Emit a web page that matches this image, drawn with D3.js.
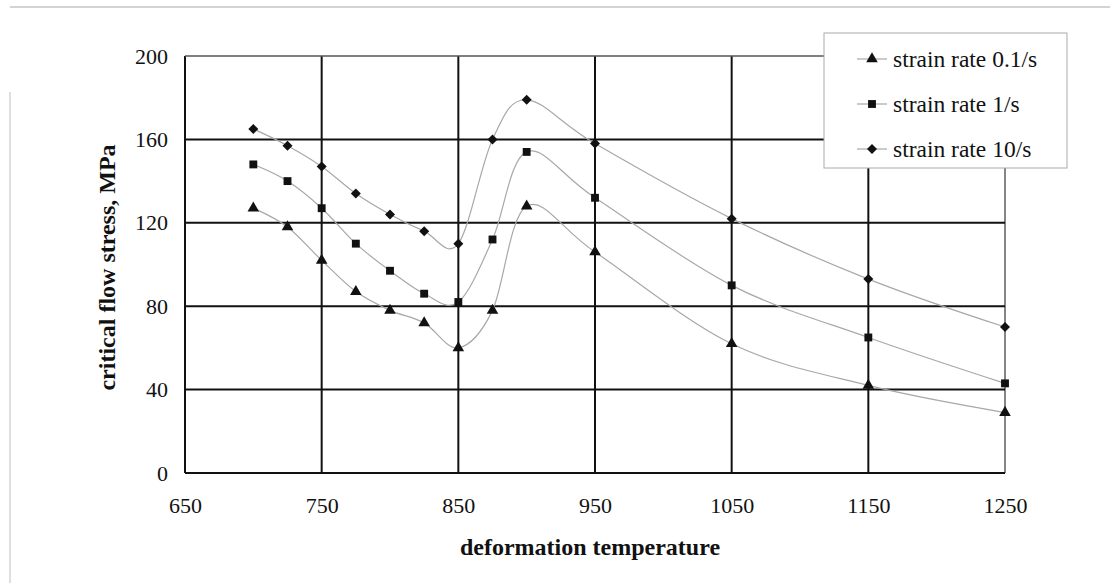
<!DOCTYPE html>
<html>
<head>
<meta charset="utf-8">
<script src="https://cdn.jsdelivr.net/npm/d3@7"></script>
<style>
  body { margin: 0; background: #fff; }
  svg { display: block; font-family: "Liberation Serif", "Times New Roman", serif; }
</style>
</head>
<body>
<div id="content"></div>
<script>
// values
let temps = [700, 725, 750, 775, 800, 825, 850, 875, 900, 950, 1050, 1150, 1250];
let rate01 = [127, 118, 102, 87, 78, 72, 60, 78, 128, 106, 62, 42, 29];
let rate1 = [148, 140, 127, 110, 97, 86, 82, 112, 154, 132, 90, 65, 43];
let rate10 = [165, 157, 147, 134, 124, 116, 110, 160, 179, 158, 122, 93, 70];

let xTicks = [650, 750, 850, 950, 1050, 1150, 1250];
let yTicks = [0, 40, 80, 120, 160, 200];
let seriesNames = ['strain rate 0.1/s', 'strain rate 1/s', 'strain rate 10/s'];

let W = 1110, H = 583;
let plotL = 185, plotR = 1005, plotT = 56, plotB = 473;

let x = d3.scaleLinear().domain([650, 1250]).range([plotL, plotR]);
let y = d3.scaleLinear().domain([0, 200]).range([plotB, plotT]);

let svg = d3.select('#content').append('svg')
    .attr('width', W).attr('height', H);

// scanned page edges
svg.append('line').attr('x1', 10).attr('x2', W).attr('y1', 7).attr('y2', 7)
    .attr('stroke', '#c4c4c4').attr('stroke-width', 1.5);
svg.append('line').attr('x1', 10).attr('x2', 10).attr('y1', 92).attr('y2', H)
    .attr('stroke', '#d4d4d4').attr('stroke-width', 1.5);

// grid
let grid = svg.append('g');
grid.selectAll('.vg').data(xTicks).enter().append('line')
    .attr('x1', d => x(d)).attr('x2', d => x(d))
    .attr('y1', plotT).attr('y2', plotB)
    .attr('stroke', d => d === 1250 ? '#444' : '#111')
    .attr('stroke-width', d => d === 1250 ? 1.3 : 2);
grid.selectAll('.hg').data(yTicks).enter().append('line')
    .attr('x1', plotL).attr('x2', plotR)
    .attr('y1', d => y(d)).attr('y2', d => y(d))
    .attr('stroke', d => d === 200 ? '#555' : '#111')
    .attr('stroke-width', d => d === 200 ? 1.3 : 2);

// axes text
let xAxis = svg.append('g').attr('transform', `translate(0,${plotB})`)
    .call(d3.axisBottom(x).tickValues(xTicks).tickSize(0).tickPadding(24).tickFormat(d3.format('d')));
let yAxis = svg.append('g').attr('transform', `translate(${plotL},0)`)
    .call(d3.axisLeft(y).tickValues(yTicks).tickSize(0).tickPadding(17));
[xAxis, yAxis].forEach(a => {
    a.select('.domain').remove();
    a.selectAll('text').attr('font-family', '"Liberation Serif", serif')
        .attr('font-size', 22).attr('fill', '#111');
});

svg.append('text').attr('x', (plotL + plotR) / 2 - 5).attr('y', 555)
    .attr('text-anchor', 'middle').attr('font-size', 24).attr('font-weight', 'bold')
    .attr('fill', '#111').text('deformation temperature');
svg.append('text').attr('transform', `translate(115,${(plotT + plotB) / 2 + 3}) rotate(-90)`)
    .attr('text-anchor', 'middle').attr('font-size', 24).attr('font-weight', 'bold')
    .attr('fill', '#111').text('critical flow stress, MPa');

// markers
let diamond = {
    draw(ctx, size) {
        let r = Math.sqrt(size) / 1.6;
        ctx.moveTo(0, -r); ctx.lineTo(r, 0); ctx.lineTo(0, r); ctx.lineTo(-r, 0); ctx.closePath();
    }
};
let shapes = [
    d3.symbol().type(d3.symbolTriangle).size(58),
    d3.symbol().type(d3.symbolSquare).size(62),
    d3.symbol().type(diamond).size(64)
];

let allSeries = [rate01, rate1, rate10];
let line = d3.line()
    .x((d, i) => x(temps[i]))
    .y(d => y(d))
    .curve(d3.curveCatmullRom.alpha(0));

allSeries.forEach((vals, k) => {
    svg.append('path').datum(vals)
        .attr('d', line).attr('fill', 'none')
        .attr('stroke', '#a8a8a8').attr('stroke-width', 1.2);
});
allSeries.forEach((vals, k) => {
    svg.append('g').selectAll('path').data(vals).enter().append('path')
        .attr('transform', (d, i) => `translate(${x(temps[i])},${y(d)})`)
        .attr('d', shapes[k]()).attr('fill', '#111');
});

// legend
let lg = svg.append('g');
lg.append('rect').attr('x', 824).attr('y', 33).attr('width', 243).attr('height', 135)
    .attr('fill', '#fff').attr('stroke', '#aaa').attr('stroke-width', 1);
seriesNames.forEach((name, k) => {
    let cy = 59 + k * 45;
    lg.append('line').attr('x1', 857).attr('x2', 887).attr('y1', cy).attr('y2', cy)
        .attr('stroke', '#a8a8a8').attr('stroke-width', 1.2);
    lg.append('path').attr('transform', `translate(872,${cy})`)
        .attr('d', shapes[k]()).attr('fill', '#111');
    lg.append('text').attr('x', 893).attr('y', cy).attr('dy', '0.35em')
        .attr('font-size', 23.5).attr('fill', '#111').text(name);
});
</script>
</body>
</html>
